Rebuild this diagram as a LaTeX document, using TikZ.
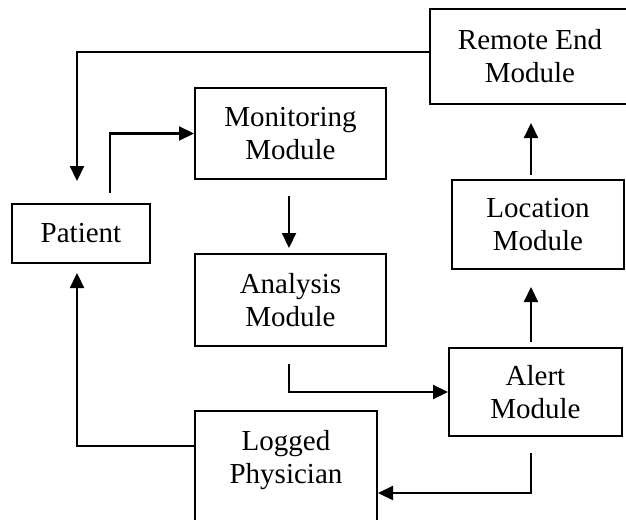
\documentclass[tikz,border=0pt]{standalone}
\usepackage{fontspec}
\setmainfont{Liberation Serif}
\usetikzlibrary{arrows.meta}
\begin{document}
\begin{tikzpicture}[x=1pt,y=-1pt,
  boxfont/.style={font=\fontsize{29}{33}\selectfont},
  box/.style={draw, line width=2pt, align=center, boxfont, inner sep=0pt},
  link/.style={line width=2.2pt},
  arr/.style={link, -{Triangle[width=14pt,length=15pt]}}]
\useasboundingbox (0,0) rectangle (626,519);

% module boxes
\node[box, minimum width=200, minimum height=95] (Remote) at (530,56.5) {Remote End\\Module};
\node[box, minimum width=191, minimum height=91] (Monitoring) at (290.5,133.5) {Monitoring\\Module};
\node[box, minimum width=138, minimum height=59] (Patient) at (81,233.5) {Patient};
\node[box, minimum width=191, minimum height=92] (Analysis) at (290.5,300) {Analysis\\Module};
\node[box, minimum width=172, minimum height=89] (Location) at (538,224.5) {Location\\Module};
\node[box, minimum width=173, minimum height=88] (Alert) at (535.5,392) {Alert\\Module};
\node[box, minimum width=182, minimum height=164] (Logged) at (286,493) {};
\node[boxfont, align=center, anchor=north] (LoggedText) at ([yshift=-17pt]Logged.north) {Logged\\Physician};

% lanes used by the connectors
\coordinate (laneL) at (77,0);
\coordinate (laneP) at (110,0);
\coordinate (laneC) at (289,0);
\coordinate (laneR) at (531,0);
\coordinate (rowTop) at (0,52);
\coordinate (rowPat) at (0,446);

% connectors
\draw[arr, shorten >=22pt] (Remote.west |- rowTop) -| (Patient.north -| laneL);
\draw[arr, shorten <=10pt] (Patient.north -| laneP) |- (Monitoring.west);
\draw[arr, shorten <=16pt, shorten >=5pt] (Monitoring.south -| laneC) -- (Analysis.north -| laneC);
\draw[arr, shorten <=17pt] (Analysis.south -| laneC) |- (Alert.west);
\draw[arr, shorten <=5pt, shorten >=17pt] (Alert.north -| laneR) -- (Location.south -| laneR);
\draw[arr, shorten <=4pt, shorten >=18pt] (Location.north -| laneR) -- (Remote.south -| laneR);
\draw[arr, shorten <=16pt] (Alert.south -| laneR) |- (Logged.east);
\draw[arr, shorten >=9pt] (Logged.west |- rowPat) -| (Patient.south -| laneL);
\end{tikzpicture}
\end{document}
